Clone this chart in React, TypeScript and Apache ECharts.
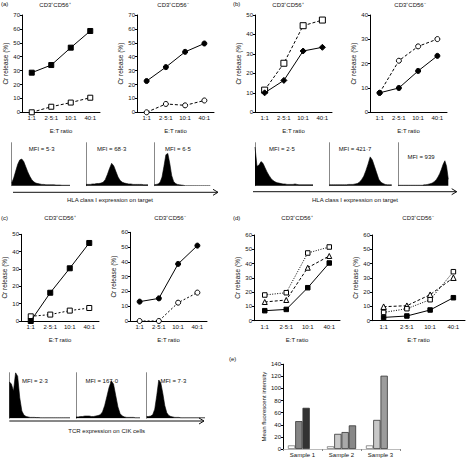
import React, { useEffect, useRef } from "react";
import * as echarts from "echarts";

// ---------- data ----------
const etRatios = ["1:1", "2·5:1", "10:1", "40:1"];

const aPosFilled = [28.5, 34, 46.5, 58.5];
const aPosOpen = [0, 4, 7, 10.5];
const aNegFilled = [22.5, 32.5, 43.5, 49.5];
const aNegOpen = [0, 6, 5, 8.5];

const bPosFilled = [10, 16.4, 31.5, 33.4];
const bPosOpen = [11.4, 25.2, 44.5, 47.4];
const bNegFilled = [8, 10, 17, 23.2];
const bNegOpen = [8, 21.2, 27.1, 30.1];

const cPosFilled = [0, 16.3, 30.4, 45];
const cPosOpen = [2.7, 3.7, 6, 7.5];
const cNegFilled = [13.1, 15.3, 38.6, 51];
const cNegOpen = [0, 0, 12.4, 19.2];

const dPosFilled = [7, 7.9, 23.1, 40.4];
const dPosTriangle = [13.1, 14.5, 37.1, 45.3];
const dPosOpen = [18, 19.6, 47.4, 51.6];
const dNegFilled = [2.3, 3.3, 7.5, 16.1];
const dNegTriangle = [9.8, 10.5, 18.2, 30.1];
const dNegOpen = [5.8, 8.4, 14.7, 34.3];

// histogram counts (% of box height)
const histA1 = [6, 18, 34, 50, 60, 62, 56, 44, 32, 22, 14, 9, 6, 5, 4, 3, 3, 2, 2, 2, 2, 2, 1.5, 1.5, 1.5, 1, 1, 1, 1, 1];
const histA2 = [3, 3, 3, 4, 4, 5, 5, 6, 8, 14, 26, 40, 52, 46, 33, 20, 12, 8, 6, 5, 4, 4, 3, 3, 3, 3, 3, 2, 2, 2];
const histA3 = [2, 3, 4, 8, 20, 45, 72, 75, 52, 24, 10, 5, 3, 2, 1.5, 1, 0, 0, 0, 0, 0, 0, 0, 0, 0, 0, 0, 0, 0, 0];
const histB1 = [90, 45, 48, 56, 52, 42, 32, 24, 17, 12, 9, 7, 6, 5, 4, 4, 3, 3, 3, 3, 4, 3, 2, 2, 2, 2, 2, 2, 2, 2];
const histB2 = [2, 2, 2, 2, 2, 2, 2, 2, 2, 3, 3, 3, 4, 5, 8, 14, 22, 35, 50, 67, 60, 45, 30, 15, 8, 5, 3, 2, 2, 2];
const histB3 = [1, 1, 1, 1, 1, 1, 1, 1, 1, 1, 1, 1, 1, 1, 1, 2, 2, 3, 4, 5, 7, 10, 14, 20, 28, 38, 50, 58, 45, 15];
const histC1 = [80, 75, 60, 100, 92, 45, 16, 7, 4, 3, 2, 2, 2, 1.5, 1.5, 1, 1, 1, 1, 1, 1, 1, 1, 1, 1, 1, 1, 1, 1, 1];
const histC2 = [3, 3, 4, 4, 5, 5, 5, 4, 4, 5, 6, 8, 14, 28, 48, 68, 82, 75, 50, 25, 10, 5, 3, 2, 2, 2, 2, 1, 1, 1];
const histC3 = [4, 4, 5, 8, 20, 50, 84, 78, 55, 28, 12, 6, 4, 3, 2, 2, 2, 1, 1, 1, 1, 1, 1, 1, 1, 1, 1, 1, 1, 1];

const mfiLabelsA = ["MFI = 5·3", "MFI = 68·3", "MFI = 6·5"];
const mfiLabelsB = ["MFI = 2·5", "MFI = 421·7", "MFI = 939"];
const mfiLabelsC = ["MFI = 2·3", "MFI = 167·0", "MFI = 7·3"];

const samples = ["Sample 1", "Sample 2", "Sample 3"];
const mfiSlot1 = [6, 4.5, 6];
const mfiSlot2 = [46, 25, 48];
const mfiSlot3 = [68, 28, 121];
const mfiSlot4: (number | null)[] = [null, 39, null];

const slotShades = [
  ["#ffffff", "#ffffff", "#ffffff"],
  ["#858585", "#c8c8c8", "#c8c8c8"],
  ["#333333", "#a9a9a9", "#9c9c9c"],
  ["#878787", "#878787", "#878787"],
];

const FONT = "'Liberation Sans', Arial, sans-serif";
const TXT = "#111";
const FS = 6;

type Def = { data: number[]; symbol: string; open: boolean; dash: any; size?: number };

function buildOption() {
  const grid: any[] = [];
  const xAxis: any[] = [];
  const yAxis: any[] = [];
  const series: any[] = [];

  const addLine = (rect: number[], yMax: number, yInt: number, defs: Def[]) => {
    const i = grid.length;
    grid.push({ left: rect[0], top: rect[1], width: rect[2], height: rect[3] });
    xAxis.push({
      type: "category",
      gridIndex: i,
      data: etRatios,
      boundaryGap: true,
      name: "E:T ratio",
      nameLocation: "middle",
      nameGap: 16,
      nameTextStyle: { fontSize: FS, color: TXT, fontFamily: FONT },
      axisLine: { lineStyle: { color: "#000", width: 1 } },
      axisTick: { alignWithLabel: true, length: 2, lineStyle: { color: "#000" } },
      axisLabel: { fontSize: FS, color: TXT, fontFamily: FONT, margin: 3, interval: 0 },
    });
    yAxis.push({
      type: "value",
      gridIndex: i,
      min: 0,
      max: yMax,
      interval: yInt,
      name: "Cr release (%)",
      nameLocation: "middle",
      nameGap: 12,
      nameTextStyle: { fontSize: 6.5, color: TXT, fontFamily: FONT },
      axisLine: { show: true, lineStyle: { color: "#000", width: 1 } },
      axisTick: { show: true, length: 2, lineStyle: { color: "#000" } },
      axisLabel: { fontSize: FS, color: TXT, fontFamily: FONT, margin: 2 },
      splitLine: { show: false },
    });
    defs.forEach((d) => {
      series.push({
        type: "line",
        xAxisIndex: i,
        yAxisIndex: i,
        data: d.data,
        symbol: d.symbol,
        symbolSize: d.size ?? 5,
        showSymbol: true,
        z: d.open ? 3 : 4,
        lineStyle: { color: "#000", width: 1, type: d.dash },
        itemStyle: d.open
          ? { color: "#fff", borderColor: "#000", borderWidth: 1 }
          : { color: "#000", borderColor: "#000", borderWidth: 1 },
      });
    });
  };

  const addHist = (rect: number[], data: number[]) => {
    const i = grid.length;
    grid.push({ left: rect[0], top: rect[1], width: rect[2], height: rect[3] });
    xAxis.push({ type: "category", gridIndex: i, boundaryGap: false, data: data.map((_, k) => k), show: false });
    yAxis.push({
      type: "value",
      gridIndex: i,
      min: 0,
      max: 100,
      axisLine: { show: true, lineStyle: { color: "#888", width: 1 } },
      axisTick: { show: false },
      axisLabel: { show: false },
      splitLine: { show: false },
    });
    series.push({
      type: "line",
      xAxisIndex: i,
      yAxisIndex: i,
      data,
      symbol: "none",
      z: 12,
      lineStyle: { color: "#000", width: 0.6 },
      areaStyle: { color: "#000", opacity: 1 },
    });
  };

  // (a)
  addLine([22, 15, 78, 97.3], 70, 10, [
    { data: aPosFilled, symbol: "rect", open: false, dash: "solid" },
    { data: aPosOpen, symbol: "rect", open: true, dash: [3, 2] },
  ]);
  addLine([137, 15, 77, 97.3], 70, 10, [
    { data: aNegFilled, symbol: "circle", open: false, dash: "solid" },
    { data: aNegOpen, symbol: "circle", open: true, dash: [3, 2] },
  ]);
  // (b)
  addLine([255, 15, 77, 97.3], 50, 10, [
    { data: bPosFilled, symbol: "diamond", open: false, dash: "solid", size: 6 },
    { data: bPosOpen, symbol: "rect", open: true, dash: [3, 2], size: 6 },
  ]);
  addLine([370, 15, 77, 97.3], 40, 10, [
    { data: bNegFilled, symbol: "circle", open: false, dash: "solid" },
    { data: bNegOpen, symbol: "circle", open: true, dash: [3, 2] },
  ]);
  // (c)
  addLine([21, 234.3, 78, 86.7], 50, 10, [
    { data: cPosFilled, symbol: "rect", open: false, dash: "solid" },
    { data: cPosOpen, symbol: "rect", open: true, dash: [2, 2] },
  ]);
  addLine([130, 232.3, 77, 88.7], 60, 10, [
    { data: cNegFilled, symbol: "circle", open: false, dash: "solid" },
    { data: cNegOpen, symbol: "circle", open: true, dash: [2, 2] },
  ]);
  // (d)
  addLine([254, 235, 86, 85.7], 60, 10, [
    { data: dPosFilled, symbol: "rect", open: false, dash: "solid", size: 4.5 },
    { data: dPosTriangle, symbol: "triangle", open: true, dash: [3, 2], size: 5 },
    { data: dPosOpen, symbol: "rect", open: true, dash: [1, 1.5], size: 4.5 },
  ]);
  addLine([372, 235, 93, 85.7], 60, 10, [
    { data: dNegFilled, symbol: "rect", open: false, dash: "solid", size: 4.5 },
    { data: dNegTriangle, symbol: "triangle", open: true, dash: [3, 2], size: 5.5 },
    { data: dNegOpen, symbol: "rect", open: true, dash: [1, 1.5], size: 4.5 },
  ]);

  // histograms
  addHist([11.7, 142.7, 58.3, 43], histA1);
  addHist([86, 142.7, 62, 43], histA2);
  addHist([154.3, 142.7, 56, 43], histA3);
  addHist([255, 142.7, 58, 43], histB1);
  addHist([329.3, 142.7, 62.4, 43], histB2);
  addHist([398.3, 142.7, 50, 43], histB3);
  addHist([9.3, 372.7, 60.7, 45.6], histC1);
  addHist([76, 372.7, 64, 45.6], histC2);
  addHist([146.7, 372.7, 58.3, 45.6], histC3);

  // (e) bars
  const ei = grid.length;
  grid.push({ left: 283, top: 364.2, width: 117, height: 84.8 });
  xAxis.push({
    type: "category",
    gridIndex: ei,
    data: samples,
    boundaryGap: true,
    axisLine: { lineStyle: { color: "#bbb", width: 1 } },
    axisTick: { show: true, length: 2, lineStyle: { color: "#888" } },
    axisLabel: { fontSize: FS, color: TXT, fontFamily: FONT, margin: 3 },
  });
  yAxis.push({
    type: "value",
    gridIndex: ei,
    min: 0,
    max: 140,
    interval: 20,
    name: "Mean fluorescent intensity",
    nameLocation: "middle",
    nameGap: 14,
    nameTextStyle: { fontSize: FS, color: TXT, fontFamily: FONT },
    axisLine: { show: true, lineStyle: { color: "#000", width: 1 } },
    axisTick: { show: true, length: 2, lineStyle: { color: "#000" } },
    axisLabel: { fontSize: FS, color: TXT, fontFamily: FONT, margin: 2 },
    splitLine: { show: false },
  });
  [mfiSlot1, mfiSlot2, mfiSlot3, mfiSlot4].forEach((vals, s) => {
    series.push({
      type: "bar",
      xAxisIndex: ei,
      yAxisIndex: ei,
      barWidth: 7.3,
      barGap: "0%",
      data: vals.map((v, k) => ({
        value: v,
        itemStyle: { color: slotShades[s][k], borderColor: s === 0 ? "#777" : "#333", borderWidth: 0.8 },
      })),
    });
  });

  const titleStyle = { fontSize: FS, fontWeight: "normal", color: TXT, fontFamily: FONT };
  const mkTitle = (text: string, x: number, y: number, align = "center") => ({
    text,
    left: x,
    top: y,
    textAlign: align,
    textStyle: titleStyle,
    padding: 0,
  });

  const title = [
    mkTitle("(a)", 1, 1, "left"),
    mkTitle("CD3⁺CD56⁺", 55, 2),
    mkTitle("CD3⁺CD56⁻", 173, 2),
    mkTitle("(b)", 233, 1, "left"),
    mkTitle("CD3⁺CD56⁺", 288, 2),
    mkTitle("CD3⁺CD56⁻", 410, 2),
    mkTitle("(c)", 1, 215, "left"),
    mkTitle("CD3⁺CD56⁺", 60, 215),
    mkTitle("CD3⁺CD56⁻", 170, 215),
    mkTitle("(d)", 233, 215, "left"),
    mkTitle("CD3⁺CD56⁺", 297, 215),
    mkTitle("CD3⁺CD56⁻", 418, 215),
    mkTitle("(e)", 229, 356, "left"),
  ];

  const txt = (text: string, x: number, y: number) => ({
    type: "text",
    x,
    y,
    style: { text, fill: TXT, fontSize: FS, fontFamily: FONT, align: "center", verticalAlign: "middle" },
    z: 10,
  });
  const arrow = (x1: number, x2: number, y: number) => ({
    type: "group",
    children: [
      { type: "line", shape: { x1, y1: y, x2, y2: y }, style: { stroke: "#111", lineWidth: 1 } },
      {
        type: "polyline",
        shape: { points: [[x2 - 5, y - 3], [x2, y], [x2 - 5, y + 3]] },
        style: { stroke: "#111", lineWidth: 1, fill: null },
      },
    ],
  });

  const graphic = [
    txt(mfiLabelsA[0], 41.7, 149.3),
    txt(mfiLabelsA[1], 111.7, 149.3),
    txt(mfiLabelsA[2], 178, 149.3),
    txt(mfiLabelsB[0], 282, 149.3),
    txt(mfiLabelsB[1], 355, 149.3),
    txt(mfiLabelsB[2], 421, 156.7),
    txt(mfiLabelsC[0], 35, 380.7),
    txt(mfiLabelsC[1], 101.7, 380.7),
    txt(mfiLabelsC[2], 173.3, 380.7),
    arrow(13, 218, 192.3),
    arrow(253, 456.7, 191.7),
    arrow(9.3, 204, 421),
    txt("HLA class I expression on target", 110, 200),
    txt("HLA class I expression on target", 355, 200),
    txt("TCR expression on CIK cells", 106.7, 431),
  ];

  return {
    animation: false,
    backgroundColor: "#fff",
    textStyle: { fontFamily: FONT },
    title,
    grid,
    xAxis,
    yAxis,
    series,
    graphic,
  };
}

export default function App() {
  const ref = useRef<HTMLDivElement>(null);
  useEffect(() => {
    if (!ref.current) return;
    const chart = echarts.init(ref.current, null, { renderer: "svg" });
    chart.setOption(buildOption() as any);
    return () => chart.dispose();
  }, []);
  return (
    <div
      ref={ref}
      style={{ position: "fixed", left: 0, top: 0, width: 466, height: 460, background: "#fff" }}
    />
  );
}
